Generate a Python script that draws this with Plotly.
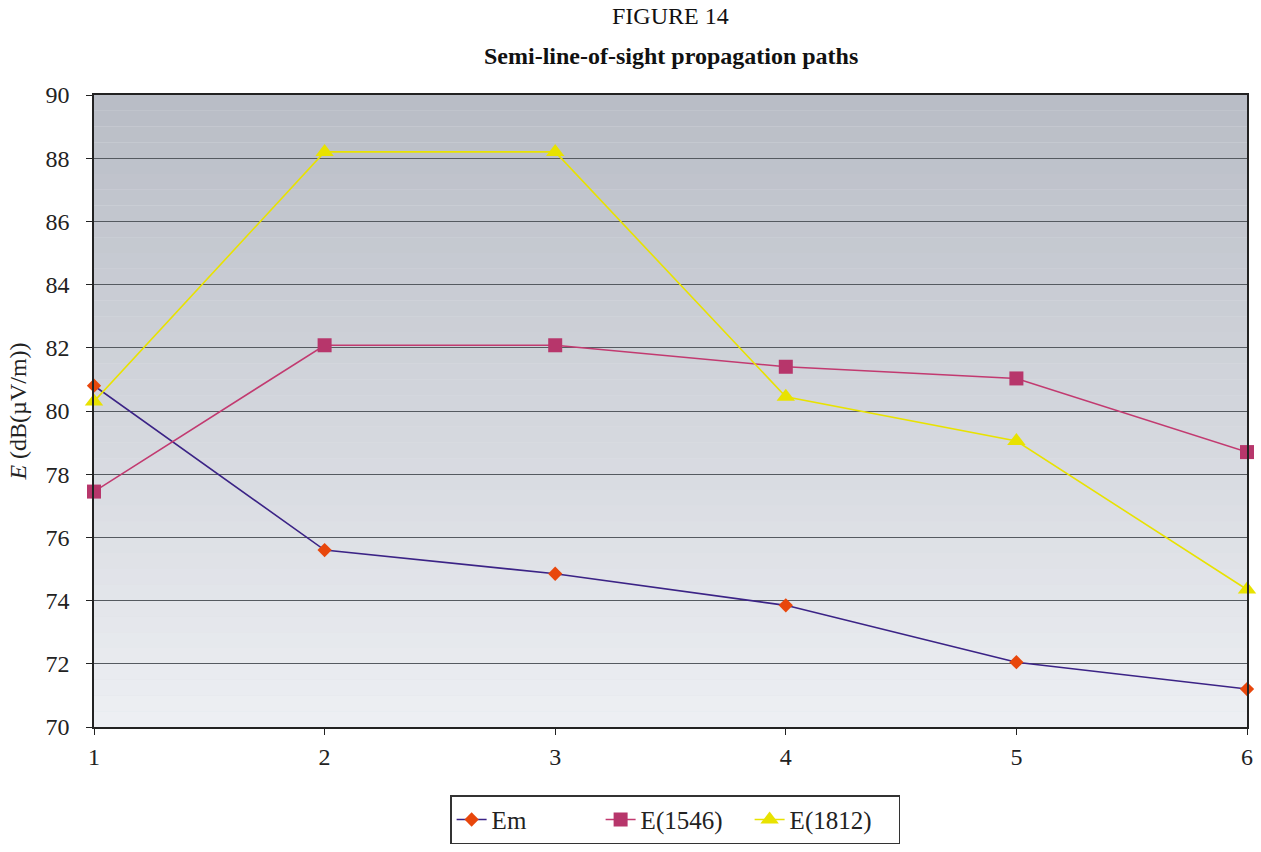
import plotly.graph_objects as go

x_vals = [1, 2, 3, 4, 5, 6]
em = [80.8, 75.6, 74.85, 73.85, 72.05, 71.2]
e1546 = [77.45, 82.08, 82.08, 81.4, 81.03, 78.7]
e1812 = [80.3, 88.2, 88.2, 80.45, 79.05, 74.35]

FONT = "Liberation Serif, Times New Roman, serif"

fig = go.Figure()
fig.add_trace(go.Scatter(x=x_vals, y=em, name="Em", mode="lines+markers",
                         line=dict(color="#3b2386", width=1.6),
                         marker=dict(symbol="diamond", size=11, color="#e8470c"),
                         cliponaxis=False))
fig.add_trace(go.Scatter(x=x_vals, y=e1546, name="E(1546)", mode="lines+markers",
                         line=dict(color="#c23a70", width=1.6),
                         marker=dict(symbol="square", size=14, color="#b7366b"),
                         cliponaxis=False))
fig.add_trace(go.Scatter(x=x_vals, y=e1812, name="E(1812)", mode="lines+markers",
                         line=dict(color="#e8e200", width=1.6),
                         marker=dict(symbol="triangle-up", size=16, color="#e8e200"),
                         cliponaxis=False))

# vertical gradient background in plot area
top = (185, 189, 198)
bot = (237, 239, 243)
N = 40
shapes = []
for i in range(N):
    t = i / (N - 1)
    c = tuple(round(bot[k] + (top[k] - bot[k]) * t) for k in range(3))
    shapes.append(dict(type="rect", xref="x domain", yref="y domain",
                       x0=0, x1=1, y0=i / N, y1=(i + 1) / N,
                       fillcolor="rgb(%d,%d,%d)" % c, line=dict(width=0),
                       layer="below"))

fig.update_layout(
    width=1261, height=852,
    margin=dict(l=94, r=8, t=95, b=105),
    paper_bgcolor="white",
    plot_bgcolor="#e0e2e7",
    shapes=shapes,
    font=dict(family=FONT, color="#222", size=24),
    showlegend=True,
    legend=dict(orientation="h", x=0.504, xanchor="center", y=-0.108, yanchor="top",
                bordercolor="#333", borderwidth=1.5, bgcolor="white",
                font=dict(size=25, family=FONT, color="#222"),
                entrywidth=104, entrywidthmode="pixels",
                tracegroupgap=0),
)
fig.add_annotation(text="FIGURE 14", x=0.5, xref="paper", y=1, yref="paper",
                   yanchor="middle", yshift=79, showarrow=False,
                   font=dict(size=24, family=FONT, color="#111"))
fig.add_annotation(text="<b>Semi-line-of-sight propagation paths</b>", x=0.5, xref="paper",
                   y=1, yref="paper", yanchor="middle", yshift=39, showarrow=False,
                   font=dict(size=24, family=FONT, color="#111"))

fig.update_xaxes(range=[1, 6], tickvals=x_vals, ticktext=[str(v) for v in x_vals],
                 showgrid=False, zeroline=False, showline=True, linecolor="#222",
                 linewidth=1.5, mirror=True, ticks="outside", ticklen=6,
                 ticklabelstandoff=1,
                 tickcolor="#222", tickfont=dict(size=24, family=FONT, color="#222"))
fig.update_yaxes(range=[70, 90], dtick=2, showgrid=True, gridcolor="#555a60",
                 gridwidth=1.3, zeroline=False, showline=True, linecolor="#222",
                 linewidth=1.5, mirror=True, ticks="outside", ticklen=6,
                 ticklabelstandoff=12,
                 tickcolor="#222", tickfont=dict(size=24, family=FONT, color="#222"),
                 title=dict(text="<i>E</i> (dB(µV/m))", standoff=12,
                            font=dict(size=24, family=FONT, color="#222")))

fig.write_html("out.html", config={"displayModeBar": False},
               post_script="document.body.style.margin='0';document.body.style.overflow='hidden';")
